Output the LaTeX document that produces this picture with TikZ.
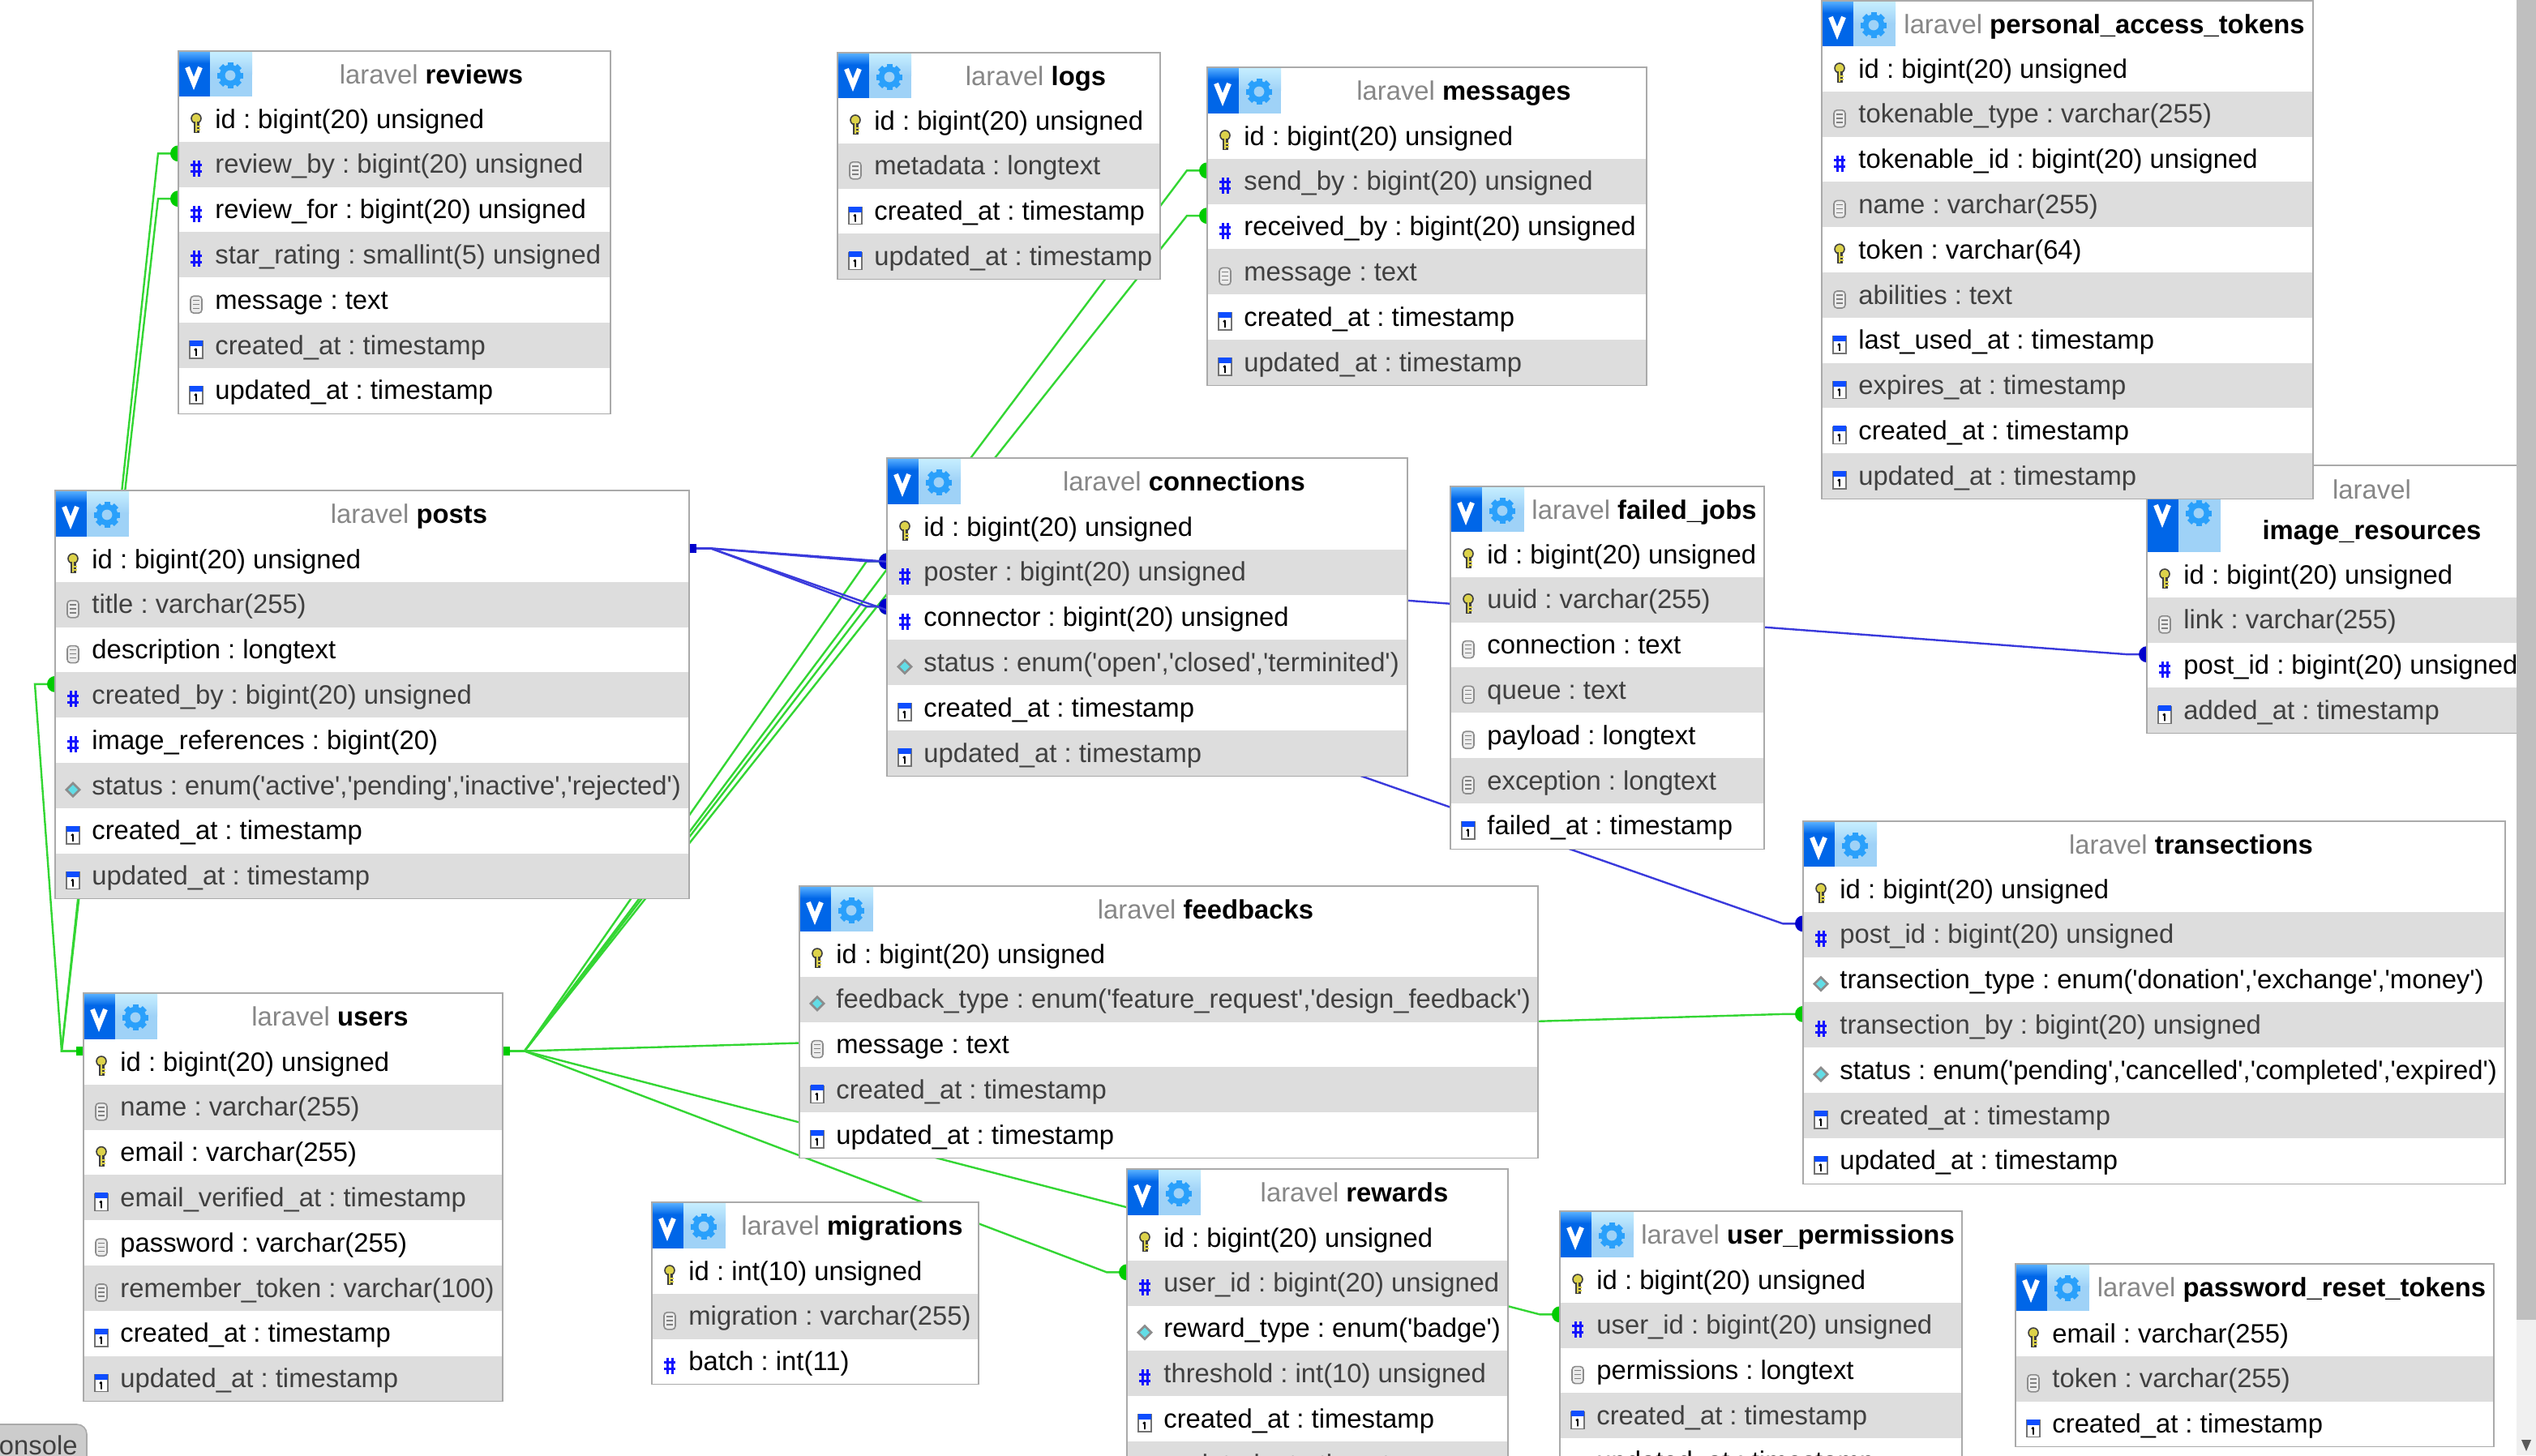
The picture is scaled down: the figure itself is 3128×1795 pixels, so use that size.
\documentclass[tikz,border=0pt]{standalone}
\usepackage{fontspec}
\newfontfamily\dbfont{Liberation Sans}
\frenchspacing
\pgfdeclarelayer{conn}
\pgfsetlayers{conn,main}
\definecolor{fkg}{HTML}{33D633}
\definecolor{fkgd}{HTML}{00CC00}
\definecolor{fkb}{HTML}{3A3ADC}
\definecolor{fkbd}{HTML}{0000CC}
\definecolor{rowgrey}{HTML}{DDDDDD}
\definecolor{frameg}{HTML}{AAAAAA}
\definecolor{vblue}{HTML}{0066E8}
\definecolor{vlight}{HTML}{55AEFF}
\definecolor{gearbg}{HTML}{9FD2F7}
\definecolor{gearlt}{HTML}{C6EEFF}
\definecolor{gearfg}{HTML}{2AA0FB}
\definecolor{hashb}{HTML}{1212FF}
\definecolor{keyy}{HTML}{DCD24A}
\definecolor{cyanic}{HTML}{62DDE6}
\tikzset{
  rowbox/.style={anchor=north west,inner sep=0pt,outer sep=0pt,minimum height=27.9pt},
  rowtext/.style={anchor=base west,inner sep=0pt,font=\dbfont\fontsize{16.4pt}{20pt}\selectfont},
  titletext/.style={anchor=base,inner sep=0pt,align=center,font=\dbfont\fontsize{16.4pt}{25pt}\selectfont},
  tableframe/.style={anchor=north west,inner sep=0pt,outer sep=0pt,draw=frameg,line width=1pt,fill=white},
  fkgreen/.style={draw=fkg,fill=fkgd,line width=1.2pt},
  fkblue/.style={draw=fkb,fill=fkbd,line width=1.2pt},
}
\newcommand{\dbiconk}{% key
  \draw[black!75,fill=keyy,line width=.8pt] (0,-6) circle [radius=3pt];
  \fill[black!75] (-3.5,-2) rectangle (3.5,12);
  \fill[keyy] (-1.5,-2) rectangle (1,11);
  \fill[keyy] (1,3) rectangle (5,5);
  \fill[keyy] (1,7) rectangle (5,9);
}
\newcommand{\dbicont}{% text
  \draw[black!45,fill=black!8,line width=.8pt,rounded corners=2pt] (-7,-10) rectangle (7,11);
  \foreach \ly in {-5,0,5}{\draw[black!50,line width=.7pt] (-4,\ly) -- (4,\ly);}
}
\newcommand{\dbiconh}{% hash
  \draw[hashb,line width=1.5pt] (-3,-10) -- (-3,10) (3,-10) -- (3,10) (-7,-4) -- (7,-4) (-7,4) -- (7,4);
}
\newcommand{\dbicond}{% diamond
  \fill[black!45] (0,-10) -- (10,0) -- (0,10) -- (-10,0) -- cycle;
  \fill[cyanic] (0,-6) -- (6,0) -- (0,6) -- (-6,0) -- cycle;
}
\newcommand{\dbiconc}{% calendar
  \draw[black!55,fill=white,line width=.8pt] (-8,-10) rectangle (8,11);
  \fill[hashb!75!cyan] (-8,-11) rectangle (8,-4);
  \draw[black,line width=.9pt] (0,-1) -- (0,8) (-2,1) -- (0,-1);
}
\newcommand{\iconoff}{29}
\newcommand{\titleoff}{40}
% #1 name, #2 left, #3 right, #4 top, #5 rowstart, #6 number of rows, #7 title, #8 rows
\newcommand{\dbtable}[8]{%
  \pgfmathsetmacro{\tw}{#3-#2}
  \pgfmathsetmacro{\th}{#5-#4+#6*55.8}
  \pgfmathsetmacro{\hh}{#5-#4}
  \node[tableframe,minimum width=\tw*0.5pt,minimum height=\th*0.5pt] (#1) at (#2,#4) {};
  \foreach \ty/\tx [count=\i] in {#8}{
    \pgfmathsetmacro{\rt}{#5+(\i-1)*55.8}
    \pgfmathsetmacro{\rw}{#3-#2-2}
    \ifodd\i
      \node[rowbox,fill=white,minimum width=\rw*0.5pt] (#1-\i) at (#2+1,\rt) {};
      \node[rowtext,text=black] (#1-\i-t) at (#2+45,\rt+39) {\tx};
    \else
      \node[rowbox,fill=rowgrey,minimum width=\rw*0.5pt] (#1-\i) at (#2+1,\rt) {};
      \node[rowtext,text=black!75] (#1-\i-t) at (#2+45,\rt+39) {\tx};
    \fi
    \begin{scope}[shift={(#2+22,\rt+33)}]\csname dbicon\ty\endcsname\end{scope}
    \coordinate (#1-\i-l) at (#2,\rt+14.5);
    \coordinate (#1-\i-r) at (#3,\rt+14.5);
  }
  % header icons
  \fill[vblue] (#2+1,#4+1) rectangle (#2+39,#5);
  \shade[top color=vlight,bottom color=vblue] (#2+1,#4+1) rectangle (#2+39,#4+15);
  \fill[gearbg] (#2+39,#4+1) rectangle (#2+91,#5);
  \shade[top color=gearlt,bottom color=gearbg] (#2+39,#4+1) rectangle (#2+91,#4+28);
  \draw[white,line width=3pt,line join=miter] (#2+11,#4+\iconoff-9) -- (#2+19,#4+\iconoff+11) -- (#2+27,#4+\iconoff-9);
  \begin{scope}[shift={(#2+64,#4+\iconoff+1)}]
    \foreach \ga in {0,45,...,315}{\fill[gearfg,rotate=\ga] (-3.5,-16) rectangle (3.5,16);}
    \fill[gearfg] (0,0) circle [radius=6.6pt];
    \fill[gearbg] (0,0) circle [radius=3.2pt];
  \end{scope}
  \pgfmathsetmacro{\tcx}{(#2+91+#3)/2}
  \node[titletext] (#1-title) at (\tcx,#4+\titleoff) {#7};
}
\newcommand{\ttl}[1]{{\color{black!47}laravel} {\bfseries #1}}
% #1 style, #2 parent coordinate, #3 parent stub (pt), #4 child coordinate
\newcommand{\fkline}[4]{%
  \draw[#1,fill=none] (#2) -- ([xshift=#3]#2) -- ([xshift=-12.5pt]#4) -- (#4);
  \fill[#1,draw=none] (#4) circle [radius=5pt];
  \fill[#1,draw=none] ([xshift=#3/3,yshift=-2.6pt]#2) rectangle ([xshift=0pt,yshift=2.6pt]#2);
}
\begin{document}
\begin{tikzpicture}[x=0.5pt,y=-0.5pt]
\path[use as bounding box,clip] (0,0) rectangle (3128,1795);

\dbtable{reviews}{220}{753}{63}{119}{7}{\ttl{reviews}}{
  k/{id : bigint(20) unsigned},h/{review\_by : bigint(20) unsigned},h/{review\_for : bigint(20) unsigned},
  h/{star\_rating : smallint(5) unsigned},t/{message : text},c/{created\_at : timestamp},c/{updated\_at : timestamp}}

\dbtable{logs}{1033}{1431}{65}{121}{4}{\ttl{logs}}{
  k/{id : bigint(20) unsigned},t/{metadata : longtext},c/{created\_at : timestamp},c/{updated\_at : timestamp}}

\dbtable{messages}{1489}{2031}{83}{140}{6}{\ttl{messages}}{
  k/{id : bigint(20) unsigned},h/{send\_by : bigint(20) unsigned},h/{received\_by : bigint(20) unsigned},
  t/{message : text},c/{created\_at : timestamp},c/{updated\_at : timestamp}}

\begingroup
\renewcommand{\iconoff}{58}\renewcommand{\titleoff}{91}
\dbtable{imageres}{2648}{3112}{574}{681}{4}{{\color{black!47}laravel}\\{\bfseries image\_resources}}{
  k/{id : bigint(20) unsigned},t/{link : varchar(255)},h/{post\_id : bigint(20) unsigned},c/{added\_at : timestamp}}
\endgroup

\dbtable{pat}{2247}{2853}{1}{57}{10}{\ttl{personal\_access\_tokens}}{
  k/{id : bigint(20) unsigned},t/{tokenable\_type : varchar(255)},h/{tokenable\_id : bigint(20) unsigned},
  t/{name : varchar(255)},k/{token : varchar(64)},t/{abilities : text},c/{last\_used\_at : timestamp},
  c/{expires\_at : timestamp},c/{created\_at : timestamp},c/{updated\_at : timestamp}}

\dbtable{posts}{68}{850}{605}{662}{8}{\ttl{posts}}{
  k/{id : bigint(20) unsigned},t/{title : varchar(255)},t/{description : longtext},h/{created\_by : bigint(20) unsigned},
  h/{image\_references : bigint(20)},d/{status : enum('active','pending','inactive','rejected')},
  c/{created\_at : timestamp},c/{updated\_at : timestamp}}

\dbtable{connections}{1094}{1736}{565}{622}{6}{\ttl{connections}}{
  k/{id : bigint(20) unsigned},h/{poster : bigint(20) unsigned},h/{connector : bigint(20) unsigned},
  d/{status : enum('open','closed','terminited')},c/{created\_at : timestamp},c/{updated\_at : timestamp}}

\dbtable{failed}{1789}{2176}{600}{656}{7}{\ttl{failed\_jobs}}{
  k/{id : bigint(20) unsigned},k/{uuid : varchar(255)},t/{connection : text},t/{queue : text},
  t/{payload : longtext},t/{exception : longtext},c/{failed\_at : timestamp}}

\dbtable{transections}{2224}{3090}{1013}{1069}{7}{\ttl{transections}}{
  k/{id : bigint(20) unsigned},h/{post\_id : bigint(20) unsigned},d/{transection\_type : enum('donation','exchange','money')},
  h/{transection\_by : bigint(20) unsigned},d/{status : enum('pending','cancelled','completed','expired')},
  c/{created\_at : timestamp},c/{updated\_at : timestamp}}

\dbtable{feedbacks}{986}{1897}{1093}{1149}{5}{\ttl{feedbacks}}{
  k/{id : bigint(20) unsigned},d/{feedback\_type : enum('feature\_request','design\_feedback')},
  t/{message : text},c/{created\_at : timestamp},c/{updated\_at : timestamp}}

\dbtable{users}{103}{620}{1225}{1282}{8}{\ttl{users}}{
  k/{id : bigint(20) unsigned},t/{name : varchar(255)},k/{email : varchar(255)},c/{email\_verified\_at : timestamp},
  t/{password : varchar(255)},t/{remember\_token : varchar(100)},c/{created\_at : timestamp},c/{updated\_at : timestamp}}

\dbtable{migrations}{804}{1207}{1483}{1540}{3}{\ttl{migrations}}{
  k/{id : int(10) unsigned},t/{migration : varchar(255)},h/{batch : int(11)}}

\dbtable{rewards}{1390}{1860}{1442}{1499}{6}{\ttl{rewards}}{
  k/{id : bigint(20) unsigned},h/{user\_id : bigint(20) unsigned},d/{reward\_type : enum('badge')},
  h/{threshold : int(10) unsigned},c/{created\_at : timestamp},c/{updated\_at : timestamp}}

\dbtable{userperm}{1924}{2420}{1494}{1551}{5}{\ttl{user\_permissions}}{
  k/{id : bigint(20) unsigned},h/{user\_id : bigint(20) unsigned},t/{permissions : longtext},
  c/{created\_at : timestamp},c/{updated\_at : timestamp}}

\dbtable{resets}{2486}{3076}{1559}{1617}{3}{\ttl{password\_reset\_tokens}}{
  k/{email : varchar(255)},t/{token : varchar(255)},c/{created\_at : timestamp}}

% console tab and scrollbar
\draw[frameg,fill=black!20,rounded corners=6pt,line width=.8pt] (-20,1757) rectangle (107,1830);
\node[anchor=base east,inner sep=0pt,text=black!75,font=\dbfont\fontsize{16.4pt}{20pt}\selectfont] (console) at (96,1794) {onsole};
\fill[black!25] (3104,0) rectangle (3128,1628);
\fill[black!6] (3104,1628) rectangle (3128,1795);
\fill[black!65] (3110,1776) -- (3122,1776) -- (3116,1790) -- cycle;

\begin{pgfonlayer}{conn}
  \fill[white] (0,0) rectangle (3128,1795);
  \foreach \ch in {posts-4-l,reviews-2-l,reviews-3-l}{\fkline{fkgreen}{users-1-l}{-13.5pt}{\ch}}
  \foreach \ch in {messages-2-l,messages-3-l,connections-2-l,connections-3-l,transections-4-l,rewards-2-l,userperm-2-l}{\fkline{fkgreen}{users-1-r}{13.5pt}{\ch}}
  \foreach \ch in {connections-2-l,connections-3-l,transections-2-l,imageres-3-l}{\fkline{fkblue}{posts-1-r}{13.5pt}{\ch}}
\end{pgfonlayer}
\end{tikzpicture}
\end{document}
